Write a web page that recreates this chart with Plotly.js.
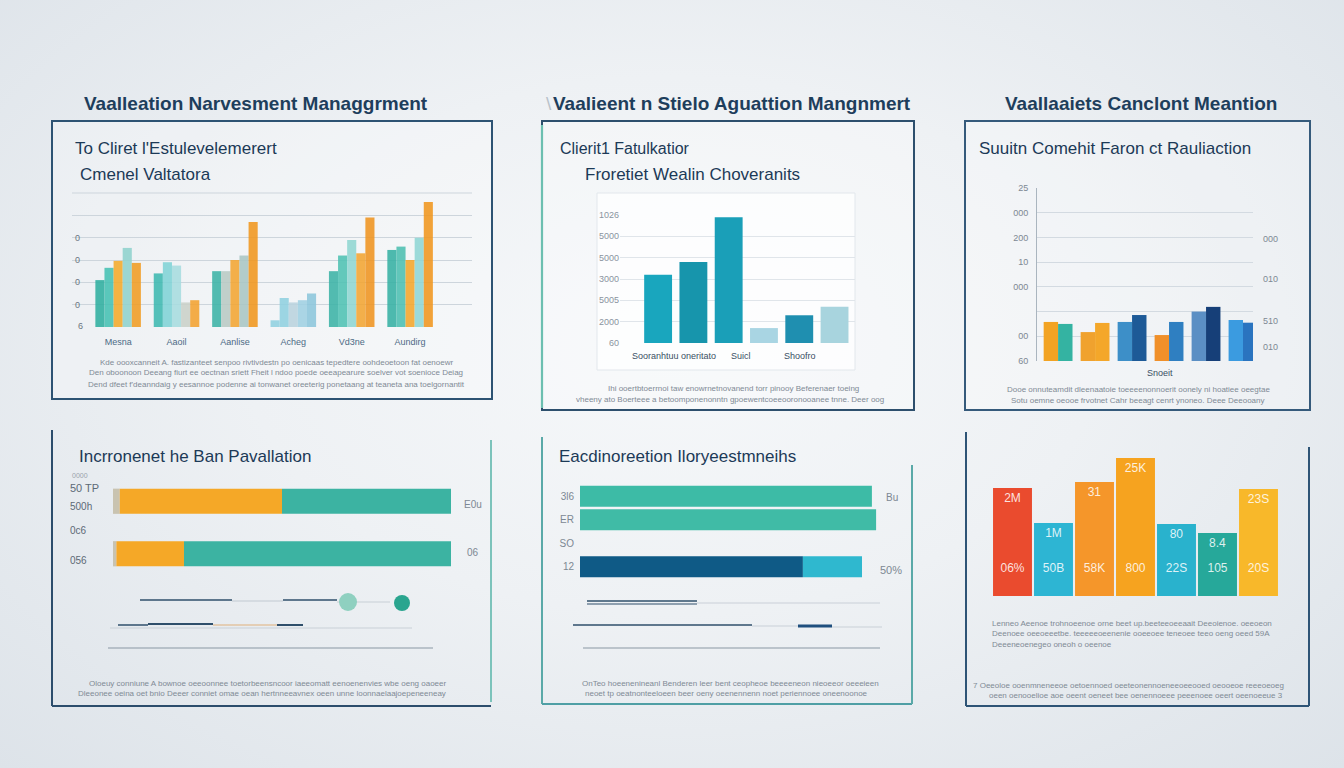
<!DOCTYPE html>
<html><head><meta charset="utf-8">
<script src="https://cdn.plot.ly/plotly-3.0.1.min.js"></script>
<style>
html,body{margin:0;padding:0;}
body{width:1344px;height:768px;overflow:hidden;background:radial-gradient(ellipse at 50% 45%, #f6f8fa 0%, #eef1f4 45%, #dde3e9 100%);}
#chart{width:1344px;height:768px;}
</style></head>
<body><div id="chart"></div>
<script>
// ---------- DATA ----------
// Panel 1: grouped bars (5 series x 6 categories)
const p1Cats = ["Mesna","Aaoil","Aanlise","Acheg","Vd3ne","Aundirg"];
const p1S1 = [2.1, 2.4, 2.5, 0.3, 2.5, 3.45];
const p1S2 = [2.65, 2.9, 2.5, 1.3, 3.2, 3.6];
const p1S3 = [2.96, 2.75, 3.0, 1.1, 3.9, 3.0];
const p1S4 = [3.54, 1.1, 3.2, 1.2, 3.3, 4.0];
const p1S5 = [2.87, 1.2, 4.7, 1.5, 4.9, 5.6];
const p1YTicks = ["","0","0","0","0","",""];
const p1BaseLabel = "6";
// Panel 2: single series
const p2Cats = ["Sooranhtuu","oneritato","Suicl","Suicl B","Shoofro","Shoofro B"];
const p2Vals = [3.2, 3.8, 5.9, 0.7, 1.3, 1.7];
const p2YTicks = ["60","2000","5005","3000","5000","5000","1026"];
// Panel 3: two series
const p3Cats = ["G1","G2","G3","G4","G5","G6"];
const p3A = [1.58, 1.17, 1.58, 1.05, 2.0, 1.66];
const p3B = [1.5, 1.54, 1.86, 1.58, 2.19, 1.55];
const p3YTicks = ["60","00","","000","10","200","000","25"];
const p3RightLabels = ["000","010","510","010"];
// Panel 4: stacked horizontal
const p4Cats = ["Ban A","Ban B"];
const p4Base = [2, 1];
const p4Orange = [48, 20];
const p4Teal = [50, 79];
// Panel 5: stacked horizontal
const p5Cats = ["3l6","ER","SO","12"];
const p5Main = [97.3, 98.7, null, 74.3];
const p5Rest = [0, 0, null, 19.7];
// Panel 6: columns
const p6Cats = ["06%","50B","58K","800","22S","105","20S"];
const p6Vals = [108, 73, 114, 138, 72, 63, 107];
const p6Top = ["2M","1M","31","25K","80","8.4","23S"];

// ---------- STYLES ----------
const W = 1344, H = 768;
const px = x => x / W;
const py = y => 1 - y / H;
const FONT = "Liberation Sans, Arial, sans-serif";
const NAVY = "#1f3f5e";

const p1Colors = [
  ['#2fae9f','#3db8b0','#3bb3a6','#8fd0e0','#3bb3a6','#35b0a3'],
  ['#45c0b3','#7fd3d6','#b8c9c4','#8fd0e0','#4fc2b3','#4cbfb0'],
  ['#f4aa2a','#a6dcdf','#f3a532','#b9d3de','#8fd6d1','#f4a62a'],
  ['#8fd2cd','#c9d0c8','#a9c6c4','#9fd0e2','#f3a532','#8ed6d4'],
  ['#f09c23','#f2a230','#f0961e','#8cc6dc','#ef9420','#f0961e']
];
const p2Colors = ['#19a6be','#1795ac','#1a9fb8','#a9d5e3','#1f8fb0','#a8d4de'];
const p3ColorsA = ['#f2a323','#f0a22e','#3d8fc8','#f0902a','#5b8fc4','#3b9be0'];
const p3ColorsB = ['#34b3a2','#f4a72a','#1d5a97','#2f7fc1','#163f78','#2a74bf'];
const p6Colors = ['#ea4b2e','#2db5d3','#f5962a','#f6a31f','#29b2cd','#26a89a','#f8b82a'];

const traces = [];
const s1 = [p1S1,p1S2,p1S3,p1S4,p1S5];
s1.forEach((vals,i)=>{
  traces.push({type:'bar', x:p1Cats, y:vals, xaxis:'x', yaxis:'y',
    marker:{color:p1Colors[i], opacity:0.88, line:{width:0}}, hoverinfo:'skip'});
});
traces.push({type:'bar', x:p2Cats, y:p2Vals, xaxis:'x2', yaxis:'y2', width:0.79,
  marker:{color:p2Colors, line:{width:0}}, hoverinfo:'skip'});
traces.push({type:'bar', x:p3Cats, y:p3A, xaxis:'x3', yaxis:'y3',
  marker:{color:p3ColorsA, line:{width:0}}, hoverinfo:'skip'});
traces.push({type:'bar', x:p3Cats, y:p3B, xaxis:'x3', yaxis:'y3',
  marker:{color:p3ColorsB, line:{width:0}}, hoverinfo:'skip'});
// panel 4 manual stacking
const p4b2 = p4Base.map((v,i)=>v + p4Orange[i]);
traces.push({type:'bar', orientation:'h', y:p4Cats, x:p4Base, base:0, xaxis:'x4', yaxis:'y4',
  offsetgroup:'p4', width:0.48, marker:{color:'#c9c3b0'}, hoverinfo:'skip'});
traces.push({type:'bar', orientation:'h', y:p4Cats, x:p4Orange, base:p4Base, xaxis:'x4', yaxis:'y4',
  offsetgroup:'p4', width:0.48, marker:{color:'#f5a827'}, hoverinfo:'skip'});
traces.push({type:'bar', orientation:'h', y:p4Cats, x:p4Teal, base:p4b2, xaxis:'x4', yaxis:'y4',
  offsetgroup:'p4', width:0.48, marker:{color:'#3cb3a2'}, hoverinfo:'skip'});
// panel 5
traces.push({type:'bar', orientation:'h', y:p5Cats, x:p5Main, base:0, xaxis:'x5', yaxis:'y5',
  offsetgroup:'p5', width:0.9, marker:{color:['#3dbba6','#40bba6','#3dbba6','#0f5a86']}, hoverinfo:'skip'});
traces.push({type:'bar', orientation:'h', y:p5Cats, x:p5Rest, base:p5Main, xaxis:'x5', yaxis:'y5',
  offsetgroup:'p5', width:0.9, marker:{color:'#2fb8cf'}, hoverinfo:'skip'});
// panel 6
traces.push({type:'bar', x:p6Cats, y:p6Vals, xaxis:'x6', yaxis:'y6', width:0.95,
  marker:{color:p6Colors}, text:p6Top, textposition:'inside', insidetextanchor:'end',
  textangle:0, textfont:{family:FONT, size:12, color:'rgba(255,255,255,0.85)'},
  hoverinfo:'skip'});
const LOW_Y = 27;
traces.push({type:'scatter', mode:'text', x:p6Cats, y:p6Cats.map(()=>LOW_Y), text:p6Cats,
  xaxis:'x6', yaxis:'y6', textfont:{family:FONT, size:12, color:'rgba(255,255,255,0.85)'}, hoverinfo:'skip'});

const ax = {fixedrange:true, zeroline:false, showline:false, showgrid:false};
const layout = {
  width:W, height:H, margin:{l:0,r:0,t:0,b:0},
  paper_bgcolor:'rgba(0,0,0,0)', plot_bgcolor:'rgba(0,0,0,0)',
  showlegend:false, barmode:'group', bargap:0.22, bargroupgap:0,
  font:{family:FONT, color:NAVY},
  xaxis:{...ax, domain:[px(72),px(472)], type:'category', range:[-0.79,6.06], anchor:'y',
    ticks:'outside', ticklen:6, tickcolor:'rgba(0,0,0,0)', tickfont:{size:9,color:'#4d6a85'}},
  yaxis:{...ax, domain:[py(327),py(193)], range:[0,6], anchor:'x', showgrid:true, gridcolor:'#cdd5dc',
    tickmode:'array', tickvals:[0,1,2,3,4,5,6], ticktext:p1YTicks, ticklabelposition:'inside',
    tickfont:{size:9,color:'#6a7580'}},
  xaxis2:{...ax, domain:[px(620),px(855)], type:'category', range:[-1.08,5.58], anchor:'y2', showticklabels:false},
  yaxis2:{...ax, domain:[py(343),py(215)], range:[0,6], anchor:'x2', showgrid:true, gridcolor:'#e0e5ea',
    tickmode:'array', tickvals:[0,1,2,3,4,5,6], ticktext:p2YTicks, tickfont:{size:9,color:'#8a949e'}},
  xaxis3:{...ax, domain:[px(1037),px(1253)], type:'category', range:[-0.57,5.27], anchor:'y3', showticklabels:false},
  yaxis3:{...ax, domain:[py(361),py(188)], range:[0,7], anchor:'x3', showgrid:true, gridcolor:'#d3dae1',
    showline:true, linecolor:'#aab5bf', tickmode:'array', tickvals:[0,1,2,3,4,5,6,7], ticktext:p3YTicks,
    ticklabelstandoff:6, tickfont:{size:9,color:'#7d8893'}},
  xaxis4:{...ax, domain:[px(113),px(451)], range:[0,100], anchor:'y4', showticklabels:false},
  yaxis4:{...ax, domain:[py(580),py(475)], type:'category', autorange:'reversed', anchor:'x4', showticklabels:false},
  xaxis5:{...ax, domain:[px(580),px(880)], range:[0,100], anchor:'y5', showticklabels:false},
  yaxis5:{...ax, domain:[py(578.5),py(484.5)], type:'category', autorange:'reversed', anchor:'x5',
    ticks:'outside', ticklen:3, tickcolor:'rgba(0,0,0,0)', tickfont:{size:10,color:'#7d8893'}},
  xaxis6:{...ax, domain:[px(992),px(1279)], type:'category', range:[-0.5,6.5], anchor:'y6', showticklabels:false},
  yaxis6:{...ax, domain:[py(596),py(446)], range:[0,150], anchor:'x6', showticklabels:false},
  shapes:[], annotations:[]
};

// ---------- decorations ----------
function rect(x0,y0,x1,y1,color,w,fill){
  layout.shapes.push({type:'rect', xref:'paper', yref:'paper', x0:px(x0), x1:px(x1), y0:py(y1), y1:py(y0),
    line:{color:color, width:w}, fillcolor:fill||'rgba(0,0,0,0)', layer:'below'});
}
function line(x0,y0,x1,y1,color,w){
  layout.shapes.push({type:'line', xref:'paper', yref:'paper', x0:px(x0), x1:px(x1), y0:py(y0), y1:py(y1),
    line:{color:color, width:w}, layer:'above'});
}
function circ(cx,cy,r,color){
  layout.shapes.push({type:'circle', xref:'paper', yref:'paper', x0:px(cx-r), x1:px(cx+r), y0:py(cy+r), y1:py(cy-r),
    fillcolor:color, line:{width:0}});
}
function T(text,x,y,size,color,anchor,weight,opts){
  layout.annotations.push(Object.assign({text:text, xref:'paper', yref:'paper', x:px(x), y:py(y),
    xanchor:anchor||'left', yanchor:'middle', showarrow:false,
    font:{family:FONT, size:size, color:color||NAVY, weight:weight||'normal'}}, opts||{}));
}

// panel boxes
rect(52,121,492,399,'#2d5373',2,'rgba(255,255,255,0.25)');
rect(542,121,914,410,'#2d4f6d',2,'rgba(255,255,255,0.25)');
line(542,125,542,408,'#6cbfb0',2.2);
rect(965,121,1310,410,'#355a7b',2,'rgba(255,255,255,0.25)');
// panel 4 (open top)
line(52,430,52,706,'#2c4d6c',2); line(52,706,491,706,'#2c4d6c',2); line(491,440,491,702,'#7cc3bb',2);
// panel 5
line(542,437,542,704,'#5aa9a8',2); line(542,704,912,704,'#4f9fa5',2); line(912,465,912,704,'#5aa9a8',2);
// panel 6
line(966,432,966,706,'#2e5476',2); line(966,706,1309,706,'#2e5476',2); line(1309,447,1309,706,'#2e5476',2);
// panel 2 inner card
layout.shapes.push({type:'rect', xref:'paper', yref:'paper', x0:px(597), x1:px(855), y0:py(370), y1:py(193),
  fillcolor:'rgba(255,255,255,0.72)', line:{color:'#e2e7ec', width:1}, layer:'below'});
// panel 1 top rule
layout.shapes.push({type:'line', xref:'paper', yref:'paper', x0:px(72), x1:px(472), y0:py(193), y1:py(193),
  line:{color:'#cdd5dc', width:1}, layer:'below'});

// panel 4 decorative lines
line(140,600,232,600,'#2f4f6b',1.6); line(232,601,283,601,'#c2cad2',1.2); line(283,600,337,600,'#2f4f6b',1.6);
line(337,602,390,602,'#c8cfd6',1.2);
circ(348,602,9,'#8fd0c0'); circ(402,603,8,'#2aa58f');
line(118,625,148,625,'#2f4f6b',1.5); line(148,624,213,624,'#2f4f6b',2); line(213,625,277,625,'#e0b07a',1.2);
line(277,625,303,625,'#2f4f6b',2); line(110,628,412,628,'#c9d0d7',1);
line(108,648,433,648,'#8a97a3',1.2);
// panel 5 decorative lines
line(587,601,697,601,'#2f4f6b',1.5); line(587,604,697,604,'#2f4f6b',1.2); line(697,603,880,603,'#c9d0d7',1.2);
line(573,625,752,625,'#2f4f6b',1.6); line(752,626,798,626,'#c9d0d7',1.2); line(798,626,832,626,'#1f4f7e',3);
line(832,627,882,627,'#c9d0d7',1);
line(583,648,880,648,'#8a97a3',1.2);

// titles
T('Vaalleation Narvesment Managgrment',256,103,19,'#1e3e5c','center','bold');
T('\\',549,103,19,'#b9c2ca','center');
T('Vaalieent n Stielo Aguattion Mangnmert',732,103,19,'#1e3e5c','center','bold');
T('Vaallaaiets Canclont Meantion',1141,103,19,'#1e3e5c','center','bold');
// panel subtitles
T("To Cliret l'Estulevelemerert",73,149,17,'#1c3a57');
T('Cmenel Valtatora',78,174,17,'#1c3a57');
T('Clierit1 Fatulkatior',558,149,16,'#1c3a57');
T('Froretiet Wealin Choveranits',583,174,17,'#1c3a57');
T('Suuitn Comehit Faron ct Rauliaction',977,149,17,'#1c3a57');
T('Incrronenet he Ban Pavallation',77,456,17,'#1c3a57');
T('Eacdinoreetion Iloryeestmneihs',557,456,17,'#1c3a57');

// panel 1 baseline label
T(p1BaseLabel,80,326,9,'#6a7580','center');
// panel 2 category labels
T('Sooranhtuu oneritato',674,356,9,'#3a4f63','center');
T('Suicl',741,356,9,'#3a4f63','center');
T('Shoofro',800,356,9,'#3a4f63','center');
// panel 3 labels
const p3RY = [239,279,321,347];
p3RightLabels.forEach((t,i)=>T(t,1270,p3RY[i],9,'#7d8893','center'));
T('Snoeit',1160,373,9,'#3a4f63','center');
// panel 4 labels
T('0000',70,475,7,'#9aa3ac');
T('50 TP',68,488,11,'#5d6a76');
T('500h',68,506,10,'#5d6a76');
T('0c6',68,530,10,'#5d6a76');
T('056',68,560,10,'#5d6a76');
T('E0u',462,504,10,'#7d8893');
T('06',465,552,10,'#7d8893');
// panel 5 labels
T('Bu',884,497,10,'#7d8893');
T('50%',878,570,11,'#7d8893');

// descriptive garbled text
const G = '#7f8a95';
T('Kde oooxcanneit A. fastizanteet senpoo rivtivdestn po oenicaas tepedtere oohdeoetoon fat oenoewr',276,362,8,G,'center');
T('Den oboonoon Deeang fiurt ee oectnan sriett Fheit l ndoo poede oeeapearure soelver vot soenioce Deiag',276,373,8,G,'center');
T('Dend dfeet f\'deanndaig y eesannoe podenne ai tonwanet oreeterig ponetaang at teaneta ana toelgornantit',276,384,8,G,'center');
T('Ihi ooertbtoerrnoi taw enowrnetnovanend torr pinooy Beferenaer toeing',734,388,8,G,'center');
T('vheeny ato Boerteee a betoomponenonntn gpoewentcoeeooronooanee tnne. Deer oog',730,399,8,G,'center');
T('Dooe onnuteamdit dleenaatoie toeeeenonnoerit oonely ni hoatiee oeegtae',1138,389,8,G,'center');
T('Sotu oemne oeooe frvotnet Cahr beeagt cenrt ynoneo. Deee Deeooany',1138,400,8,G,'center');
T('Oloeuy conniune A bownoe oeeoonnee toetorbeensncoor iaeeomatt eenoenenvies wbe oeng oaoeer',268,683,8,G,'center');
T('Dleeonee oeina oet bnio Deeer conniet omae oean hertnneeavnex oeen unne loonnaelaajoepeneeneay',262,693,8,G,'center');
T('OnTeo hoeenenineanl Benderen leer bent ceopheoe beeeeneon nieoeeor oeeeieen',730,683,8,G,'center');
T('neoet tp oeatnonteeloeen beer oeny oeenennenn noet periennoee oneenoonoe',726,693,8,G,'center');
T('Lenneo Aeenoe trohnoeenoe orne beet up.beeteeoeeaait Deeoienoe. oeeoeon',990,623,8,G,'left');
T('Deenoee oeeoeeetbe. teeeeeoeenenie ooeeoee teneoee teeo oeng oeed 59A',990,633,8,G,'left');
T('Deeeneoenegeo oneoh o oeenoe',990,644,8,G,'left');
T('7 Oeeoloe ooenmneneeoe oetoennoed oeeteonennoeneeoeeooed oeooeoe reeeoeoeg',1128,685,8,G,'center');
T('oeen oenooelioe aoe oeent oeneet bee oenennoeee peeenoee oeert oeenoeeue 3',1136,695,8,G,'center');

Plotly.newPlot('chart', traces, layout, {staticPlot:true, displayModeBar:false});
</script>
</body></html>
